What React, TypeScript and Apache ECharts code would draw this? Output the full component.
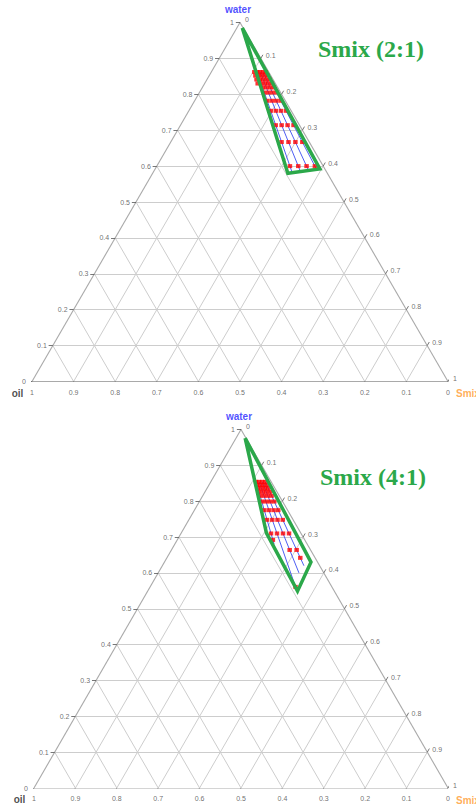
import React, { useEffect, useRef } from "react";
import * as echarts from "echarts";

// ---------- shared axis ticks ----------
const TICKS = [0, 0.1, 0.2, 0.3, 0.4, 0.5, 0.6, 0.7, 0.8, 0.9, 1];
const TICK_LABELS = ["0", "0.1", "0.2", "0.3", "0.4", "0.5", "0.6", "0.7", "0.8", "0.9", "1"];
const AXIS_NAMES = ["water", "oil", "Smix"];

// ---------- chart A : Smix (2:1) ----------
const titleA = "Smix (2:1)";
// water fraction of each row of tested compositions
const waterA = [0.862, 0.852, 0.841, 0.83, 0.819, 0.805, 0.782, 0.754, 0.714, 0.667, 0.6];
// oil / (oil + Smix) of the points in each row
const oilRatioA = [
  [0.05, 0.1, 0.15, 0.2, 0.25],
  [0.05, 0.1, 0.15, 0.2, 0.25],
  [0.05, 0.1, 0.15, 0.2, 0.25],
  [0.05, 0.1, 0.15, 0.2, 0.25],
  [0.05, 0.1, 0.15, 0.2],
  [0.05, 0.1, 0.15, 0.2],
  [0.05, 0.1, 0.15, 0.2],
  [0.05, 0.1, 0.15, 0.2],
  [0.05, 0.1, 0.15, 0.2],
  [0.05, 0.1, 0.15, 0.2],
  [0.05, 0.1, 0.15, 0.2],
];
// dilution lines: oil ratio, water at start, water at end
const dilutionRatioA = [0.05, 0.1, 0.15, 0.2];
const dilutionFromA = [0.862, 0.862, 0.862, 0.862];
const dilutionToA = [0.588, 0.585, 0.583, 0.58];
// microemulsion region boundary [water, oil, Smix]
const boundaryA: [number, number, number][] = [
  [0.985, 0.002, 0.013],
  [0.592, 0.012, 0.396],
  [0.58, 0.095, 0.325],
];

// ---------- chart B : Smix (4:1) ----------
const titleB = "Smix (4:1)";
const waterB = [0.854, 0.845, 0.836, 0.826, 0.815, 0.799, 0.775, 0.748, 0.71, 0.692, 0.664, 0.642, 0.561];
const oilRatioB = [
  [0.1, 0.15, 0.2, 0.25],
  [0.1, 0.15, 0.2, 0.25],
  [0.1, 0.15, 0.2, 0.25],
  [0.1, 0.15, 0.2, 0.25],
  [0.1, 0.15, 0.2, 0.25],
  [0.1, 0.15, 0.2, 0.25],
  [0.1, 0.15, 0.2, 0.25],
  [0.1, 0.15, 0.2, 0.25],
  [0.1, 0.15, 0.2, 0.25],
  [0.25],
  [0.1, 0.15],
  [0.1],
  [0.2],
];
const dilutionRatioB = [0.1, 0.15, 0.2, 0.25];
const dilutionFromB = [0.854, 0.854, 0.854, 0.854];
const dilutionToB = [0.62, 0.6, 0.56, 0.68];
const boundaryB: [number, number, number][] = [
  [0.976, 0.002, 0.022],
  [0.63, 0.016, 0.354],
  [0.549, 0.089, 0.362],
  [0.711, 0.083, 0.206],
];

// ---------- layout ----------
const LAYOUTS = [
  { grid: { left: 32, top: 22.5, width: 416, height: 359 }, title: { x: 318, y: 37 } },
  { grid: { left: 34, top: 429.5, width: 414, height: 358.5 }, title: { x: 320, y: 465 } },
];

const GRID_COLOR = "#cdcdcd";
const EDGE_COLOR = "#a9a9a9";
const TICK_COLOR = "#555";
const LABEL_COLOR = "#4a4a4a";
const RED = "#ff0000";
const BLUE = "#3a4cf0";
const GREEN = "#2ba84a";

type Spec = {
  water: number[];
  ratios: number[][];
  dilRatio: number[];
  dilFrom: number[];
  dilTo: number[];
  boundary: [number, number, number][];
};

// ternary [water, oil, Smix] -> cartesian in the unit triangle
function xy(w: number, o: number, s: number): [number, number] {
  const t = w + o + s;
  return [(s + w / 2) / t, w / t];
}
function fromRatio(w: number, r: number): [number, number] {
  return xy(w, (1 - w) * r, (1 - w) * (1 - r));
}

function labelSeries(idx: number, data: any[], align: string, offset: number[], style: any = {}) {
  return {
    type: "scatter",
    xAxisIndex: idx,
    yAxisIndex: idx,
    symbolSize: 1,
    silent: true,
    itemStyle: { color: "rgba(0,0,0,0)" },
    z: 6,
    label: {
      show: true,
      position: "inside",
      formatter: "{b}",
      align,
      verticalAlign: "middle",
      offset,
      fontSize: 7,
      fontFamily: "Arial, 'Liberation Sans', sans-serif",
      color: LABEL_COLOR,
      ...style,
    },
    data,
  };
}

function buildTernary(idx: number, spec: Spec): any[] {
  const gridSegs: any[] = [];
  for (let k = 1; k < TICKS.length - 1; k++) {
    const v = TICKS[k];
    gridSegs.push({ coords: [xy(v, 1 - v, 0), xy(v, 0, 1 - v)] });
    gridSegs.push({ coords: [xy(0, 1 - v, v), xy(1 - v, 0, v)] });
    gridSegs.push({ coords: [xy(0, v, 1 - v), xy(1 - v, v, 0)] });
  }
  const edgeSegs = [
    { coords: [xy(1, 0, 0), xy(0, 1, 0)] },
    { coords: [xy(0, 1, 0), xy(0, 0, 1)] },
    { coords: [xy(0, 0, 1), xy(1, 0, 0)] },
  ];
  const tickSegs: any[] = [];
  const leftLabels: any[] = [];
  const rightLabels: any[] = [];
  const bottomLabels: any[] = [];
  TICKS.forEach((v, i) => {
    const L = xy(v, 1 - v, 0);
    tickSegs.push({ coords: [L, [L[0] - 0.01, L[1]]] });
    leftLabels.push({ name: TICK_LABELS[i], value: L });
    const R = xy(1 - v, 0, v);
    tickSegs.push({ coords: [R, [R[0] + 0.005, R[1] + 0.01]] });
    rightLabels.push({ name: TICK_LABELS[i], value: R });
    const B = xy(0, v, 1 - v);
    tickSegs.push({ coords: [B, [B[0] - 0.005, B[1] - 0.01]] });
    bottomLabels.push({ name: TICK_LABELS[i], value: B });
  });

  const points: [number, number][] = [];
  spec.water.forEach((w, i) => spec.ratios[i].forEach((r) => points.push(fromRatio(w, r))));

  const dil = spec.dilRatio.map((r, i) => ({
    coords: [fromRatio(spec.dilFrom[i], r), fromRatio(spec.dilTo[i], r)],
  }));

  const poly = [...spec.boundary, spec.boundary[0]].map((p) => xy(p[0], p[1], p[2]));

  const ax = { xAxisIndex: idx, yAxisIndex: idx };
  return [
    {
      type: "lines",
      coordinateSystem: "cartesian2d",
      ...ax,
      silent: true,
      z: 1,
      lineStyle: { color: GRID_COLOR, width: 1, opacity: 1 },
      data: gridSegs,
    },
    {
      type: "lines",
      coordinateSystem: "cartesian2d",
      ...ax,
      silent: true,
      z: 2,
      lineStyle: { color: EDGE_COLOR, width: 1.1, opacity: 1 },
      data: edgeSegs,
    },
    {
      type: "lines",
      coordinateSystem: "cartesian2d",
      ...ax,
      silent: true,
      z: 2,
      lineStyle: { color: TICK_COLOR, width: 0.8, opacity: 1 },
      data: tickSegs,
    },
    {
      type: "lines",
      coordinateSystem: "cartesian2d",
      ...ax,
      silent: true,
      z: 3,
      lineStyle: { color: BLUE, width: 0.9, opacity: 1 },
      data: dil,
    },
    {
      type: "scatter",
      ...ax,
      silent: true,
      z: 4,
      symbol: "rect",
      symbolSize: [4.5, 4],
      itemStyle: { color: RED },
      data: points,
    },
    {
      type: "line",
      ...ax,
      silent: true,
      z: 5,
      showSymbol: false,
      symbol: "none",
      lineStyle: { color: GREEN, width: 3.5, join: "miter" },
      data: poly,
    },
    labelSeries(idx, leftLabels, "right", [-6, 0]),
    labelSeries(idx, rightLabels, "left", [5, -3]),
    labelSeries(idx, bottomLabels, "center", [0, 10.5]),
    labelSeries(idx, [{ name: AXIS_NAMES[0], value: xy(1, 0, 0) }], "center", [-2, -13.5], {
      fontSize: 10,
      fontWeight: "bold",
      color: "#1f1fff",
    }),
    labelSeries(idx, [{ name: AXIS_NAMES[1], value: xy(0, 1, 0) }], "center", [-14.5, 11.5], {
      fontSize: 10,
      fontWeight: "bold",
      color: "#222",
    }),
    labelSeries(idx, [{ name: AXIS_NAMES[2], value: xy(0, 0, 1) }], "left", [8, 12], {
      fontSize: 10,
      fontWeight: "bold",
      color: "#ff9a2e",
    }),
  ];
}

export default function App() {
  const ref = useRef<HTMLDivElement>(null);
  useEffect(() => {
    if (!ref.current) return;
    const chart = echarts.init(ref.current, null, { renderer: "svg" });
    const specs: Spec[] = [
      { water: waterA, ratios: oilRatioA, dilRatio: dilutionRatioA, dilFrom: dilutionFromA, dilTo: dilutionToA, boundary: boundaryA },
      { water: waterB, ratios: oilRatioB, dilRatio: dilutionRatioB, dilFrom: dilutionFromB, dilTo: dilutionToB, boundary: boundaryB },
    ];
    const titles = [titleA, titleB];
    const option: any = {
      animation: false,
      backgroundColor: "#ffffff",
      grid: LAYOUTS.map((l) => ({ ...l.grid, containLabel: false })),
      xAxis: LAYOUTS.map((_, i) => ({ gridIndex: i, type: "value", min: 0, max: 1, show: false })),
      yAxis: LAYOUTS.map((_, i) => ({ gridIndex: i, type: "value", min: 0, max: 1, show: false })),
      graphic: LAYOUTS.map((l, i) => ({
        type: "text",
        left: l.title.x,
        top: l.title.y,
        z: 10,
        style: {
          text: titles[i],
          font: "bold 24px 'Liberation Serif', 'Times New Roman', serif",
          fill: GREEN,
        },
      })),
      series: specs.flatMap((s, i) => buildTernary(i, s)),
    };
    chart.setOption(option);
    return () => chart.dispose();
  }, []);
  return (
    <div
      ref={ref}
      style={{ position: "absolute", left: 0, top: 0, width: 476, height: 805, background: "#fff" }}
    />
  );
}
